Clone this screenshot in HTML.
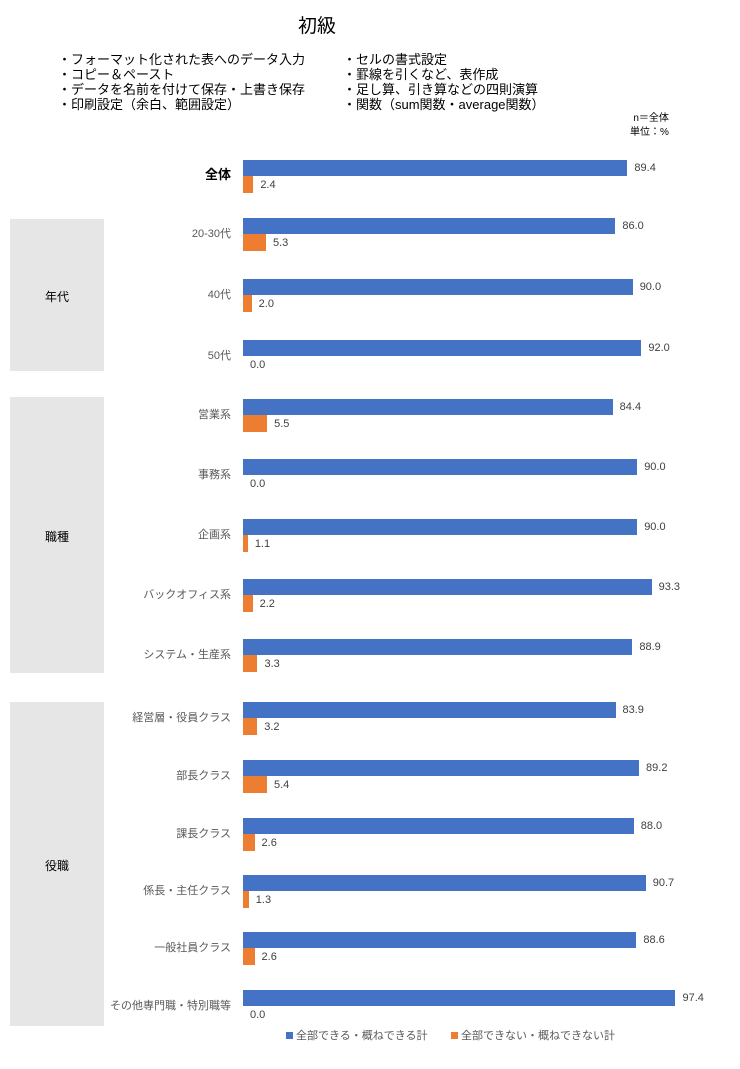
<!DOCTYPE html>
<html><head><meta charset="utf-8"><style>
body{margin:0;width:740px;height:1069px;background:#fff;position:relative;font-family:"Liberation Sans","Noto Sans CJK JP",sans-serif;overflow:hidden}
div{position:absolute;white-space:nowrap}
.b{background:#4472c4;height:16px}
.o{background:#ed7d31;height:17px}
.v{font-size:11px;color:#404040;line-height:14px}
.c{font-size:11px;color:#595959;line-height:14px;text-align:right;right:509px}
.g{background:#e7e6e6;left:10px;width:94px}
.gl{font-size:12px;color:#000;width:94px;text-align:center;left:10px}
.t{font-size:13px;color:#000;line-height:15px}
</style></head><body>
<div style="left:298px;top:11px;font-size:19px">初級</div>
<div class="t" style="left:58px;top:52px">・フォーマット化された表へのデータ入力<br>・コピー＆ペースト<br>・データを名前を付けて保存・上書き保存<br>・印刷設定（余白、範囲設定）</div>
<div class="t" style="left:343px;top:52px">・セルの書式設定<br>・罫線を引くなど、表作成<br>・足し算、引き算などの四則演算<br>・関数（sum関数・average関数）</div>
<div style="left:630px;top:112px;font-size:10px;line-height:14px;text-align:right">n＝全体<br>単位：%</div>

<div class="g" style="top:219px;height:152px"></div>
<div class="gl" style="top:288px">年代</div>
<div class="g" style="top:397px;height:276px"></div>
<div class="gl" style="top:528px">職種</div>
<div class="g" style="top:702px;height:324px"></div>
<div class="gl" style="top:857px">役職</div>

<div id="rows"></div>
<script>
var rows=[
["全体",89.4,2.4,160,4.3,1],
["20-30代",86.0,5.3,218,4.33],
["40代",90.0,2.0,279,4.33],
["50代",92.0,0.0,340,4.33],
["営業系",84.4,5.5,399,4.38],
["事務系",90.0,0.0,459,4.38],
["企画系",90.0,1.1,519,4.38],
["バックオフィス系",93.3,2.2,579,4.38],
["システム・生産系",88.9,3.3,639,4.38],
["経営層・役員クラス",83.9,3.2,702,4.44],
["部長クラス",89.2,5.4,760,4.44],
["課長クラス",88.0,2.6,818,4.44],
["係長・主任クラス",90.7,1.3,875,4.44],
["一般社員クラス",88.6,2.6,932,4.44],
["その他専門職・特別職等",97.4,0.0,990,4.44]];
var h="";
rows.forEach(function(r){
var y=r[3],s=r[4],bw=r[1]*s,ow=r[2]*s;
h+='<div class="b" style="left:243px;top:'+y+'px;width:'+bw+'px"></div>';
h+='<div class="o" style="left:243px;top:'+(y+16)+'px;width:'+ow+'px"></div>';
h+='<div class="v" style="left:'+(243+bw+7)+'px;top:'+(y+1)+'px">'+r[1].toFixed(1)+'</div>';
h+='<div class="v" style="left:'+(243+ow+7)+'px;top:'+(y+18)+'px">'+r[2].toFixed(1)+'</div>';
if(r[5])h+='<div class="c" style="top:'+(y+7)+'px;font-size:13px;font-weight:bold;color:#000;line-height:15px">'+r[0]+'</div>';
else h+='<div class="c" style="top:'+(y+9)+'px">'+r[0]+'</div>';
});
document.getElementById("rows").outerHTML=h;
</script>

<div style="left:286px;top:1032px;width:7px;height:7px;background:#4472c4"></div>
<div class="v" style="left:296px;top:1029px;color:#595959">全部できる・概ねできる計</div>
<div style="left:451px;top:1032px;width:7px;height:7px;background:#ed7d31"></div>
<div class="v" style="left:461px;top:1029px;color:#595959">全部できない・概ねできない計</div>
</body></html>
